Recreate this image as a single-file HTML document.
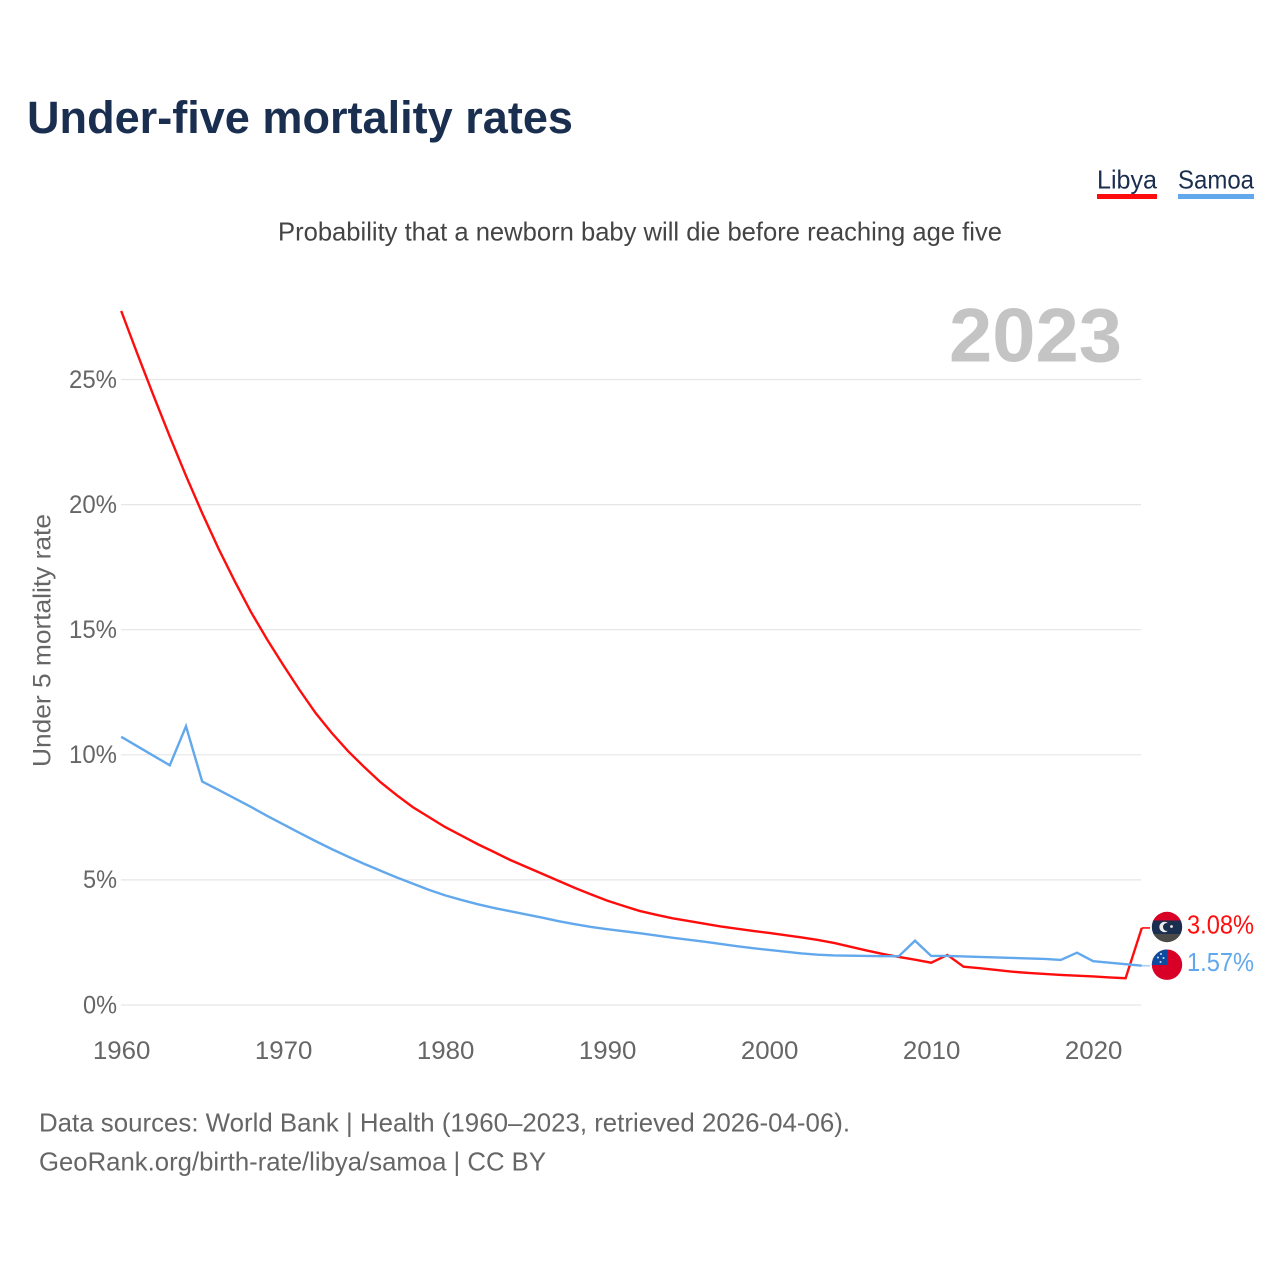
<!DOCTYPE html>
<html lang="en">
<head>
<meta charset="utf-8">
<title>Under-five mortality rates</title>
<style>
html,body{margin:0;padding:0;background:#fff}
svg{display:block}
text{font-family:"Liberation Sans",sans-serif}
</style>
</head>
<body>
<svg id="chart" width="1280" height="1280" viewBox="0 0 1280 1280" xmlns="http://www.w3.org/2000/svg">
  <rect width="1280" height="1280" fill="#fff"/>
  <text x="27" y="133" font-size="45" font-weight="700" fill="#1a2e4f" textLength="546" lengthAdjust="spacingAndGlyphs">Under-five mortality rates</text>
  <g>
    <text x="1097" y="188.5" font-size="26" fill="#1a2e4f" textLength="60" lengthAdjust="spacingAndGlyphs">Libya</text>
    <rect x="1097" y="194" width="60" height="5" fill="#ff0d0d"/>
  </g>
  <g>
    <text x="1178" y="188.5" font-size="26" fill="#1a2e4f" textLength="76" lengthAdjust="spacingAndGlyphs">Samoa</text>
    <rect x="1178" y="194" width="76" height="5" fill="#62a8ec"/>
  </g>
  <text x="278" y="240.5" font-size="26" fill="#444" textLength="724" lengthAdjust="spacingAndGlyphs">Probability that a newborn baby will die before reaching age five</text>
  <text x="949" y="361.5" font-size="76" font-weight="700" fill="#c4c4c4" textLength="173" lengthAdjust="spacingAndGlyphs">2023</text>
  <text transform="translate(50.5,767) rotate(-90)" font-size="25" fill="#666" textLength="253" lengthAdjust="spacingAndGlyphs">Under 5 mortality rate</text>
  <g id="grid"></g>
  <g id="yticks"></g>
  <g id="xticks"></g>
  <g id="series"></g>
  <defs>
    <clipPath id="clip-libya"><circle cx="1167" cy="927" r="15.2"/></clipPath>
    <clipPath id="clip-samoa"><circle cx="1167" cy="964.7" r="15.2"/></clipPath>
  </defs>
  <g clip-path="url(#clip-libya)">
    <rect x="1150" y="910" width="34" height="11" fill="#d80027"/>
    <rect x="1150" y="920.5" width="34" height="14" fill="#1a2e4f"/>
    <rect x="1150" y="934" width="34" height="10" fill="#4a4a48"/>
    <circle cx="1164.5" cy="927" r="5.2" fill="#eee"/>
    <circle cx="1167" cy="927" r="4" fill="#1a2e4f"/>
    <circle cx="1171.5" cy="926.5" r="1.4" fill="#eee"/>
  </g>
  <g clip-path="url(#clip-samoa)">
    <rect x="1150" y="948" width="34" height="34" fill="#d80027"/>
    <rect x="1150" y="948" width="17" height="17" fill="#0d4ba0"/>
    <circle cx="1161" cy="954" r="1" fill="#dde"/>
    <circle cx="1158" cy="957.5" r="1" fill="#dde"/>
    <circle cx="1163.5" cy="958" r="1" fill="#dde"/>
    <circle cx="1160.5" cy="962" r="1" fill="#dde"/>
  </g>
  <text id="label-libya" x="1187" y="933.5" font-size="26" fill="#ff0d0d" textLength="67" lengthAdjust="spacingAndGlyphs">3.08%</text>
  <text id="label-samoa" x="1187" y="971" font-size="26" fill="#62a8ec" textLength="67" lengthAdjust="spacingAndGlyphs">1.57%</text>
  <text x="39" y="1131.5" font-size="26" fill="#666" textLength="811" lengthAdjust="spacingAndGlyphs">Data sources: World Bank | Health (1960–2023, retrieved 2026-04-06).</text>
  <text x="39" y="1170.5" font-size="26" fill="#666" textLength="507" lengthAdjust="spacingAndGlyphs">GeoRank.org/birth-rate/libya/samoa | CC BY</text>
</svg>
<script>
const startYear = 1960;
const xTickLabels = [1960, 1970, 1980, 1990, 2000, 2010, 2020];
const yTickLabels = [0, 5, 10, 15, 20, 25];
const libyaValues = [
  27.74,26.02,24.35,22.72,21.15,19.66,18.25,16.95,15.72,14.62,
  13.59,12.6,11.67,10.87,10.15,9.51,8.91,8.39,7.91,7.51,
  7.11,6.77,6.43,6.12,5.8,5.52,5.24,4.96,4.68,4.42,
  4.17,3.96,3.76,3.61,3.47,3.36,3.25,3.14,3.05,2.96,
  2.88,2.79,2.7,2.6,2.48,2.33,2.18,2.04,1.92,1.81,
  1.69,2.0,1.53,1.47,1.4,1.33,1.28,1.24,1.2,1.17,
  1.14,1.1,1.07,3.08];
const samoaValues = [
  10.72,10.34,9.96,9.58,11.14,8.93,8.6,8.26,7.92,7.56,
  7.22,6.88,6.55,6.23,5.93,5.64,5.37,5.1,4.85,4.6,
  4.38,4.2,4.03,3.88,3.75,3.62,3.49,3.35,3.23,3.12,
  3.03,2.95,2.87,2.78,2.69,2.61,2.53,2.44,2.35,2.27,
  2.2,2.13,2.06,2.01,1.98,1.97,1.96,1.95,1.95,2.57,
  1.96,1.96,1.94,1.92,1.9,1.88,1.86,1.84,1.8,2.09,
  1.75,1.69,1.63,1.57];

const NS = 'http://www.w3.org/2000/svg';
function xScale(year) { return 121.2 + (year - 1960) * 16.2; }
function yScale(pct) { return 1005 - pct * 25.02; }
function make(tag, attrs, parent) {
  const el = document.createElementNS(NS, tag);
  for (const k in attrs) el.setAttribute(k, attrs[k]);
  parent.appendChild(el);
  return el;
}
const grid = document.getElementById('grid');
const yticks = document.getElementById('yticks');
const xticks = document.getElementById('xticks');
const series = document.getElementById('series');

yTickLabels.forEach(function (v) {
  const line = make('line', {x1: 121, x2: 1141, y1: yScale(v), y2: yScale(v), stroke: '#e6e6e6', 'stroke-width': 1.2}, grid);
  
  
  const t = make('text', {x: 69 + (v < 10 ? 14 : 0), y: yScale(v) + 8.3, 'font-size': 25, fill: '#666', textLength: v < 10 ? 34 : 48, lengthAdjust: 'spacingAndGlyphs'}, yticks);
  t.textContent = v + '%';
  
  
});
xTickLabels.forEach(function (v) {
  const t = make('text', {x: xScale(v) - 28.3, y: 1059, 'font-size': 25, fill: '#666', textLength: 57.5, lengthAdjust: 'spacingAndGlyphs'}, xticks);
  t.textContent = v;
  
  
});
function pathFor(values) {
  return values.map(function (v, i) {
    return (i ? 'L' : 'M') + xScale(startYear + i).toFixed(2) + ' ' + yScale(v).toFixed(2);
  }).join(' ');
}
const libyaLine = make('path', {d: pathFor(libyaValues), fill: 'none', stroke: '#ff0d0d', 'stroke-width': 2.4, 'stroke-linejoin': 'miter'}, series);


const samoaLine = make('path', {d: pathFor(samoaValues), fill: 'none', stroke: '#62a8ec', 'stroke-width': 2.4, 'stroke-linejoin': 'miter'}, series);


const lastLibya = libyaValues[libyaValues.length - 1];
const lastSamoa = samoaValues[samoaValues.length - 1];
const lastX = xScale(startYear + libyaValues.length - 1);
const connLibya = make('line', {x1: lastX, x2: 1150, y1: yScale(lastLibya), y2: yScale(lastLibya), stroke: '#ff0d0d', 'stroke-width': 1.6}, series);


const connSamoa = make('line', {x1: lastX, x2: 1150, y1: yScale(lastSamoa), y2: yScale(lastSamoa), stroke: '#a9cff5', 'stroke-width': 1.6}, series);


document.getElementById('label-libya').textContent = lastLibya.toFixed(2) + '%';
document.getElementById('label-samoa').textContent = lastSamoa.toFixed(2) + '%';
</script>
</body>
</html>
